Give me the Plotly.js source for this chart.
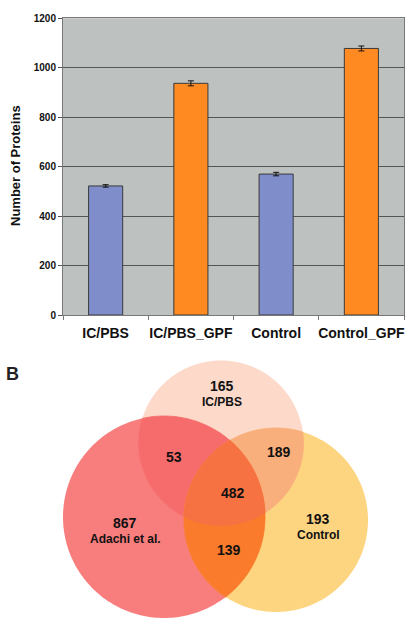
<!DOCTYPE html>
<html>
<head>
<meta charset="utf-8">
<script src="https://cdn.plot.ly/plotly-3.0.1.min.js"></script>
<style>
  html, body { margin: 0; padding: 0; background: #fff; }
  #chart { width: 410px; height: 620px; }
</style>
</head>
<body>
<div id="chart"></div>
<script>
// Panel A: protein identifications per sample
const categories = ['IC/PBS', 'IC/PBS_GPF', 'Control', 'Control_GPF'];
const proteinCounts = [522, 937, 570, 1078];
const countErrors = [5, 10, 7, 10];
const yTickValues = [0, 200, 400, 600, 800, 1000, 1200];

// Panel B: overlap of protein sets
const vennSetNames = ['Adachi et al.', 'IC/PBS', 'Control'];
const vennRegionCounts = [867, 165, 193, 53, 189, 139, 482];
const vennRegionNames = ['Adachi et al.', 'IC/PBS', 'Control', '', '', '', ''];

const FONT = 'Liberation Sans, Arial, sans-serif';
const BLUE = '#7f8dca';
const ORANGE = '#ff8a22';

const barColors = categories.map(c => c.endsWith('_GPF') ? ORANGE : BLUE);

// circle geometry in pixel units of the lower panel (Adachi, IC/PBS, Control)
const circles = [
  { cx: 164, cy: 517, r: 101 },
  { cx: 221, cy: 443, r: 82.5 },
  { cx: 276, cy: 520, r: 92 }
];
// fill of every region, keyed by which circles it belongs to
const regionFills = {
  '0': '#f87d7d',
  '1': '#fcd9c9',
  '2': '#fdd581',
  '01': '#f66b6c',
  '12': '#f9af7b',
  '02': '#f97b2b',
  '012': '#f67242'
};
// label anchor points for the seven regions, same order as vennRegionCounts
const regionPos = [
  [125, 524], [222, 387], [318, 520],
  [174, 457], [279, 452], [229, 550], [233, 493]
];

// circle as a polygon
function circlePoly(c, n) {
  const pts = [];
  for (let k = 0; k < n; k++) {
    const t = 2 * Math.PI * k / n;
    pts.push([c.cx + c.r * Math.cos(t), c.cy + c.r * Math.sin(t)]);
  }
  return pts;
}
// clip a polygon by a convex polygon (Sutherland-Hodgman)
function clipPoly(subject, clip) {
  let out = subject;
  let area = 0;
  for (let i = 0; i < clip.length; i++) {
    const a = clip[i], b = clip[(i + 1) % clip.length];
    area += a[0] * b[1] - b[0] * a[1];
  }
  const sgn = area > 0 ? 1 : -1;
  for (let i = 0; i < clip.length; i++) {
    const a = clip[i], b = clip[(i + 1) % clip.length];
    const inside = p => sgn * ((b[0] - a[0]) * (p[1] - a[1]) - (b[1] - a[1]) * (p[0] - a[0])) >= 0;
    const inter = (p, q) => {
      const x1 = p[0], y1 = p[1], x2 = q[0], y2 = q[1];
      const x3 = a[0], y3 = a[1], x4 = b[0], y4 = b[1];
      const d = (x1 - x2) * (y3 - y4) - (y1 - y2) * (x3 - x4);
      const t = ((x1 - x3) * (y3 - y4) - (y1 - y3) * (x3 - x4)) / d;
      return [x1 + t * (x2 - x1), y1 + t * (y2 - y1)];
    };
    const input = out;
    out = [];
    for (let j = 0; j < input.length; j++) {
      const cur = input[j], prev = input[(j + input.length - 1) % input.length];
      if (inside(cur)) {
        if (!inside(prev)) out.push(inter(prev, cur));
        out.push(cur);
      } else if (inside(prev)) {
        out.push(inter(prev, cur));
      }
    }
    if (!out.length) break;
  }
  return out;
}
function polyPath(pts) {
  return 'M' + pts.map(p => p[0].toFixed(2) + ',' + p[1].toFixed(2)).join('L') + 'Z';
}

const polys = circles.map(c => circlePoly(c, 240));

const traces = [
  {
    type: 'bar',
    x: categories,
    y: proteinCounts,
    marker: { color: barColors, line: { color: '#3a3a3a', width: 1 } },
    error_y: { type: 'data', array: countErrors, color: '#111', thickness: 1, width: 3 },
    xaxis: 'x', yaxis: 'y',
    hoverinfo: 'skip'
  },
  {
    type: 'scatter', mode: 'markers',
    x: [], y: [],
    xaxis: 'x2', yaxis: 'y2',
    hoverinfo: 'skip'
  }
];

const shapes = [
  {
    type: 'rect', xref: 'x domain', yref: 'y domain',
    x0: 0, x1: 1, y0: 0, y1: 1,
    fillcolor: '#bdc1bf', line: { width: 0 }, layer: 'below'
  }
];
// single circles, then pairwise lenses, then the common core
const regionKeys = ['0', '1', '2', '01', '12', '02', '012'];
regionKeys.forEach(key => {
  const idx = key.split('').map(Number);
  let poly = polys[idx[0]];
  for (let k = 1; k < idx.length; k++) poly = clipPoly(poly, polys[idx[k]]);
  const inner = idx.length > 1;
  shapes.push({
    type: 'path', xref: 'x2', yref: 'y2',
    path: polyPath(poly),
    fillcolor: regionFills[key],
    // overlaid regions get a hairline of their own colour to hide seams
    line: inner ? { color: regionFills[key], width: 0.8 } : { width: 0 },
    layer: 'below'
  });
});

const annotations = [
  {
    xref: 'x2', yref: 'y2', x: 15, y: 166,
    text: 'Number of Proteins', textangle: -90, showarrow: false,
    font: { family: FONT, size: 13, weight: 'bold', color: '#111' }
  },
  {
    xref: 'x2', yref: 'y2', x: 4, y: 374, xanchor: 'left',
    text: 'B', showarrow: false,
    font: { family: FONT, size: 18, weight: 'bold', color: '#222' }
  }
];
vennRegionCounts.forEach((n, i) => {
  const [px, py] = regionPos[i];
  const name = vennRegionNames[i];
  annotations.push({
    xref: 'x2', yref: 'y2', x: px, y: name ? py - 1 : py,
    text: String(n), showarrow: false,
    font: { family: FONT, size: 14, weight: 'bold', color: '#111' }
  });
  if (name) {
    annotations.push({
      xref: 'x2', yref: 'y2', x: px, y: py + 15,
      text: name, showarrow: false,
      font: { family: FONT, size: 12, weight: 'bold', color: '#111' }
    });
  }
});

const layout = {
  width: 410, height: 620,
  margin: { l: 0, r: 0, t: 0, b: 0 },
  paper_bgcolor: '#ffffff',
  plot_bgcolor: 'rgba(0,0,0,0)',
  showlegend: false,
  bargap: 0.6,
  xaxis: {
    domain: [63 / 410, 404 / 410],
    anchor: 'y',
    type: 'category',
    showline: true, linecolor: '#777', linewidth: 1, mirror: true,
    ticks: 'outside', tickson: 'boundaries', ticklen: 4, tickcolor: '#777',
    tickangle: 0,
    ticklabelstandoff: 5,
    showgrid: false,
    tickfont: { family: FONT, size: 14, weight: 'bold', color: '#111' },
    fixedrange: true
  },
  yaxis: {
    domain: [(620 - 315) / 620, (620 - 18.3) / 620],
    anchor: 'x',
    range: [0, 1200],
    tickvals: yTickValues,
    showline: true, linecolor: '#777', linewidth: 1, mirror: true,
    ticks: 'outside', ticklen: 4, tickcolor: '#555',
    showgrid: true, gridcolor: '#555', gridwidth: 1,
    zeroline: false,
    tickfont: { family: FONT, size: 10, weight: 'bold', color: '#111' },
    fixedrange: true
  },
  xaxis2: {
    domain: [0, 1], anchor: 'y2', range: [0, 410],
    visible: false, fixedrange: true
  },
  yaxis2: {
    domain: [0, 1], anchor: 'x2', range: [620, 0],
    visible: false, fixedrange: true
  },
  shapes: shapes,
  annotations: annotations
};

Plotly.newPlot('chart', traces, layout, { staticPlot: true, displayModeBar: false });
</script>
</body>
</html>
